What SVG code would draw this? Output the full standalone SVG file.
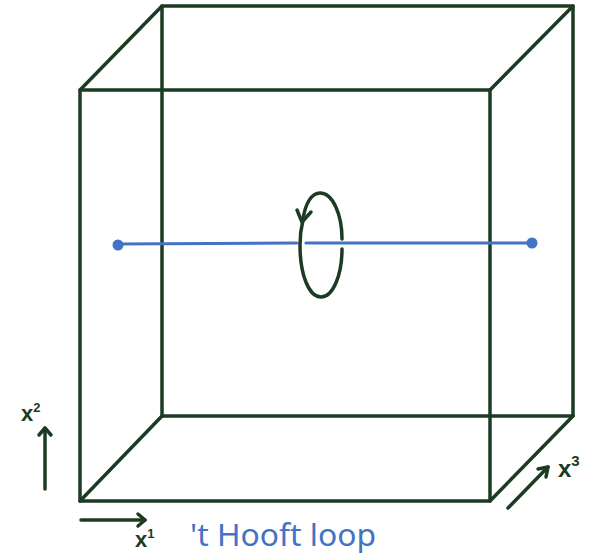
<svg xmlns="http://www.w3.org/2000/svg" width="590" height="558" viewBox="0 0 590 558">
<style>
.g{stroke:#1c3b22;stroke-width:3.5;fill:none;stroke-linecap:round;stroke-linejoin:round}
.b{stroke:#4472c4;stroke-width:3.2;fill:none;stroke-linecap:round}
.lbl{font-family:"Liberation Sans",sans-serif;font-weight:bold;fill:#1c3b22}
.blt{font-family:"Noto Sans",sans-serif;fill:#4472c4}
</style>
<rect width="590" height="558" fill="#fff"/>
<g id="cube">
<rect class="g" x="80" y="90" width="410" height="411"/>
<rect class="g" x="162" y="6" width="411" height="410"/>
<line class="g" x1="80" y1="90" x2="162" y2="6"/>
<line class="g" x1="490" y1="90" x2="573" y2="6"/>
<line class="g" x1="80" y1="501" x2="162" y2="416"/>
<line class="g" x1="490" y1="501" x2="573" y2="416"/>
</g>
<g id="line">
<line class="b" x1="118" y1="244" x2="297" y2="243"/>
<line class="b" x1="306" y1="243" x2="532" y2="243"/>
<circle cx="118" cy="245" r="5.5" fill="#4472c4"/>
<circle cx="532" cy="243" r="5.5" fill="#4472c4"/>
</g>
<g id="loop">
<path class="g" d="M303 220 C305 203 312 193 320 193 C333 193 342 215 342 239 M342 249 C342 275 333 297 321 297 C309 297 300 275 300 245 C300 236 301 228 303 220"/>
<path class="g" d="M297 210 L302 222 L311 212"/>
</g>
<g id="axes">
<line class="g" x1="45" y1="489" x2="45" y2="428"/>
<path class="g" d="M39 435 L45 428 L51 435"/>
<text class="lbl" x="21" y="421" font-size="22">x<tspan font-size="13" dy="-9">2</tspan></text>
<line class="g" x1="81" y1="520" x2="145" y2="520"/>
<path class="g" d="M138 514 L145 520 L138 526"/>
<text class="lbl" x="135" y="547" font-size="22">x<tspan font-size="13" dy="-9">1</tspan></text>
<line class="g" x1="508" y1="508" x2="548" y2="467"/>
<path class="g" d="M538 469 L548 467 L546 477"/>
<text class="lbl" x="558" y="477" font-size="24">x<tspan font-size="15" dy="-11">3</tspan></text>
</g>
<text class="blt" x="190" y="546" font-size="31" textLength="186" lengthAdjust="spacingAndGlyphs">'t Hooft loop</text>
</svg>
